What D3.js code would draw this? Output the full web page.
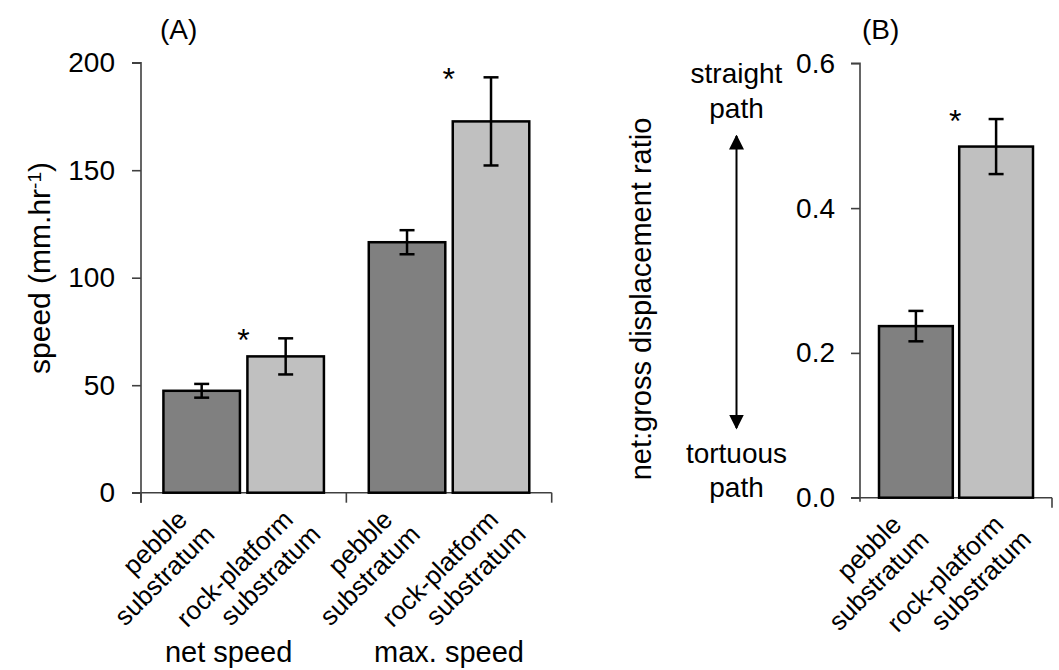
<!DOCTYPE html>
<html>
<meta charset="utf-8">
<style>
body { margin: 0; background: #fff; }
svg { display: block; font-family: "Liberation Sans", Arial, sans-serif; }
.axis path, .axis line { stroke: #404040; stroke-width: 1.6; fill: none; }
.axis text { font-size: 28px; fill: #000; }
.bar { stroke: #000; stroke-width: 2.5; }
.err { stroke: #000; stroke-width: 2.5; }
</style>
<body>
<svg width="1059" height="670"></svg>
<script src="https://d3js.org/d3.v7.min.js"></script>
<script>
// data
var groups = ["net speed", "max. speed"];
var substrata = ["pebble", "rock"];
var substrataLines = [["pebble", "substratum"], ["rock-platform", "substratum"]];
var netSpeed = [47.4, 63.4];
var netSpeedErr = [3.2, 8.4];
var maxSpeed = [116.5, 172.7];
var maxSpeedErr = [5.6, 20.5];
var ratio = [0.237, 0.485];
var ratioErr = [0.021, 0.038];
var signif = [false, true];
var speedTicks = [0, 50, 100, 150, 200];
var ratioTicks = [0, 0.2, 0.4, 0.6];
var fills = ["#808080", "#c0c0c0"];

var svg = d3.select("svg");

// ---------- panel A ----------
var yA = d3.scaleLinear().domain([0, 200]).range([492.7, 62.7]);
var xGroup = d3.scaleBand().domain(groups).range([141, 551.7]);
var xSub = d3.scaleBand().domain(substrata).range([0, xGroup.bandwidth()])
    .paddingInner(0.089).paddingOuter(0.267);

var speedData = [];
groups.forEach(function(g, gi) {
  var vals = gi == 0 ? netSpeed : maxSpeed;
  var errs = gi == 0 ? netSpeedErr : maxSpeedErr;
  substrata.forEach(function(s, si) {
    speedData.push({group: g, sub: s, si: si, value: vals[si], err: errs[si], sig: signif[si],
      x: xGroup(g) + xSub(s), w: xSub.bandwidth()});
  });
});

var pA = svg.append("g");

pA.append("g")
    .attr("class", "axis")
    .attr("transform", "translate(141,0)")
    .call(d3.axisLeft(yA).tickValues(speedTicks).tickSize(9).tickSizeOuter(9).tickPadding(17))
    .call(function(a) { a.select(".domain").attr("d", "M-9," + yA(200) + "H0V" + (yA(0) + 10)); });

// x axis with ticks at group boundaries
var xa = pA.append("g").attr("class", "axis");
xa.append("line").attr("x1", 141 - 9).attr("x2", xGroup.range()[1])
    .attr("y1", yA(0)).attr("y2", yA(0));
xa.selectAll(".gt").data(groups.concat(["end"])).enter().append("line")
    .attr("x1", function(d, i) { return i < groups.length ? xGroup(d) : xGroup.range()[1]; })
    .attr("x2", function(d, i) { return i < groups.length ? xGroup(d) : xGroup.range()[1]; })
    .attr("y1", yA(0)).attr("y2", yA(0) + 10);

drawBars(pA, speedData, yA);

pA.selectAll(".glab").data(groups).enter().append("text")
    .attr("x", function(d, i) { return xGroup(d) + xGroup.bandwidth() / 2 - (i == 0 ? 15 : 0); })
    .attr("y", 662)
    .attr("text-anchor", "middle")
    .style("font-size", "29px")
    .text(function(d) { return d; });

svg.append("text").attr("x", 160).attr("y", 39).style("font-size", "28px").text("(A)");

var yLabA = svg.append("text")
    .attr("transform", "translate(50,268) rotate(-90)")
    .attr("text-anchor", "middle")
    .style("font-size", "30px");
yLabA.append("tspan").text("speed (mm.hr");
yLabA.append("tspan").attr("dy", "-0.45em").style("font-size", "19px").text("-1");
yLabA.append("tspan").attr("dy", "0.3em").text(")");

// ---------- panel B ----------
var yB = d3.scaleLinear().domain([0, 0.6]).range([497.7, 63.3]);
var xB = d3.scaleBand().domain(substrata).range([860, 1052])
    .paddingInner(0.08).paddingOuter(0.237);

var ratioData = substrata.map(function(s, si) {
  return {sub: s, si: si, value: ratio[si], err: ratioErr[si], sig: signif[si],
    x: xB(s), w: xB.bandwidth()};
});

var pB = svg.append("g");
pB.append("g")
    .attr("class", "axis")
    .attr("transform", "translate(860,0)")
    .call(d3.axisLeft(yB).tickValues(ratioTicks).tickFormat(d3.format(".1f"))
      .tickSize(9).tickSizeOuter(9).tickPadding(16))
    .call(function(a) { a.select(".domain").attr("d", "M-9," + yB(0.6) + "H0V" + (yB(0) + 4)); });

var xbA = pB.append("g").attr("class", "axis");
xbA.append("line").attr("x1", 860 - 9).attr("x2", 1052).attr("y1", yB(0)).attr("y2", yB(0));
xbA.append("line").attr("x1", 1052).attr("x2", 1052).attr("y1", yB(0)).attr("y2", yB(0) + 10);

drawBars(pB, ratioData, yB);

svg.append("text").attr("x", 862).attr("y", 39).style("font-size", "28px").text("(B)");

svg.append("text")
    .attr("transform", "translate(651,299) rotate(-90)")
    .attr("text-anchor", "middle")
    .style("font-size", "29px")
    .text("net:gross displacement ratio");

// direction arrow
var defs = svg.append("defs");
defs.append("marker").attr("id", "head").attr("viewBox", "0 0 10 10")
    .attr("refX", 9).attr("refY", 5).attr("markerWidth", 7.5).attr("markerHeight", 7.5)
    .attr("orient", "auto-start-reverse").attr("markerUnits", "strokeWidth")
  .append("path").attr("d", "M0,0L10,5L0,10Z").attr("fill", "#000");

svg.append("line").attr("x1", 736.5).attr("x2", 736.5).attr("y1", 428).attr("y2", 136)
    .attr("stroke", "#000").attr("stroke-width", 2)
    .attr("marker-start", "url(#head)").attr("marker-end", "url(#head)");

[["straight", 83], ["path", 118], ["tortuous", 463], ["path", 497]].forEach(function(t) {
  svg.append("text").attr("x", 736.5).attr("y", t[1]).attr("text-anchor", "middle")
      .style("font-size", "28px").text(t[0]);
});

// category labels (slanted, two lines)
catLabels(speedData, yA(0));
catLabels(ratioData, yB(0));

function drawBars(g, data, y) {
  g.selectAll(".bar").data(data).enter().append("rect")
      .attr("class", "bar")
      .attr("x", function(d) { return d.x; })
      .attr("y", function(d) { return y(d.value); })
      .attr("width", function(d) { return d.w; })
      .attr("height", function(d) { return y(0) - y(d.value); })
      .attr("fill", function(d) { return fills[d.si]; });

  var e = g.selectAll(".errg").data(data).enter().append("g").attr("class", "err");
  e.append("line")
      .attr("x1", function(d) { return d.x + d.w / 2; })
      .attr("x2", function(d) { return d.x + d.w / 2; })
      .attr("y1", function(d) { return y(d.value + d.err); })
      .attr("y2", function(d) { return y(d.value - d.err); });
  [1, -1].forEach(function(s) {
    e.append("line")
        .attr("x1", function(d) { return d.x + d.w / 2 - 7.5; })
        .attr("x2", function(d) { return d.x + d.w / 2 + 7.5; })
        .attr("y1", function(d) { return y(d.value + s * d.err); })
        .attr("y2", function(d) { return y(d.value + s * d.err); });
  });

  g.selectAll(".star").data(data.filter(function(d) { return d.sig; })).enter().append("text")
      .attr("x", function(d) { return d.x - 4; })
      .attr("y", function(d) { return y(d.value + d.err) + 13; })
      .attr("text-anchor", "middle")
      .style("font-size", "32px")
      .text("*");
}

function catLabels(data, axisY) {
  var c = Math.SQRT1_2;
  data.forEach(function(d) {
    var cx = d.x + d.w / 2;
    var t1 = svg.append("text").attr("text-anchor", "end").style("font-size", "26px")
        .text(substrataLines[d.si][0]);
    var t2 = svg.append("text").attr("text-anchor", "end").style("font-size", "26px")
        .text(substrataLines[d.si][1]);
    var L1 = t1.node().getComputedTextLength();
    var L2 = t2.node().getComputedTextLength();
    var left = Math.min(-L1 * c, 27.5 - L2 * c);
    var px = cx - 31 - (left + 27.5) / 2;
    var py = axisY + 28.5;
    t1.attr("transform", "translate(" + px + "," + py + ") rotate(-45)");
    t2.attr("transform", "translate(" + (px + 27.5) + "," + (py + 14.8) + ") rotate(-45)");
  });
}
</script>
</body>
</html>
